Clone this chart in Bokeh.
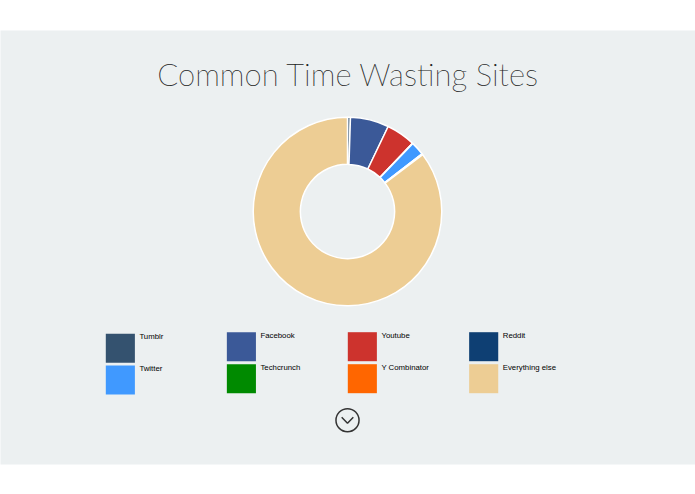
import numpy as np
from bokeh.embed import file_html
from bokeh.models import ColumnDataSource, Range1d
from bokeh.plotting import figure
from bokeh.resources import INLINE

# 1. Data
sites = ["Tumblr", "Facebook", "Youtube", "Reddit", "Twitter", "Techcrunch", "Y Combinator", "Everything else"]
shares = [0.5, 6.6, 5.0, 0.1, 2.3, 0.1, 0.1, 85.3]
colors = ["#34526f", "#3b5998", "#cd332d", "#0e3f73", "#4099ff", "#008a00", "#ff6600", "#edcd94"]
title = "Common Time Wasting Sites"

# 2. Layout, all in page pixels
W, H = 695, 494
BG = "#ecf0f1"
panel_top, panel_bottom = 30, 464
cx, cy, r_out, r_in = 347, 211, 94, 47
swatch = 29
# legend goes two rows by four columns, first column sits a bit lower
col_x = [106, 226.7, 347.3, 468.3]
row_y = {0: [333.3, 331.7, 331.7, 331.7], 1: [365, 363.7, 363.7, 363.7]}


def fy(y):
    return H - y


p = figure(width=W, height=H, x_range=Range1d(1, W - 1), y_range=Range1d(0, H),
           x_axis_location=None, y_axis_location=None,
           output_backend="svg", toolbar_location=None, min_border=0)
p.grid.visible = False
p.outline_line_color = None
p.background_fill_color = "white"
p.border_fill_color = "white"
# cancels the page margin, the panel runs edge to edge
p.styles = {"position": "absolute", "left": "0px", "top": "0px"}

p.quad(left=[-5], right=[W + 5], top=[fy(panel_top)], bottom=[fy(panel_bottom)], fill_color=BG, line_color=None)

p.text(x=[(158 + 538) / 2], y=[fy(73)], text=[title], text_font={"value": "Lato Thin, Roboto Thin, Lato"},
       text_font_size="31px", text_color="#222222", text_align="center", text_baseline="alphabetic")

# 3. Donut, clockwise from twelve o'clock
ends = np.cumsum(shares) / np.sum(shares) * 2 * np.pi
starts = np.concatenate([[0], ends[:-1]])
donut = ColumnDataSource(dict(start=np.pi / 2 - starts, end=np.pi / 2 - ends, color=colors, site=sites))
p.annular_wedge(x=cx, y=fy(cy), inner_radius=r_in, outer_radius=r_out, start_angle="start", end_angle="end",
                direction="clock", fill_color="color", line_color="white", line_width=1.5, source=donut)

# 4. Legend
for i, site in enumerate(sites):
    col, row = i % 4, i // 4
    x, y = col_x[col], row_y[row][col]
    p.quad(left=[x], right=[x + swatch], top=[fy(y)], bottom=[fy(y + swatch)],
           fill_color=colors[i], line_color=None)
    p.text(x=[x + swatch + 4.5], y=[fy(y + 3)], text=[site], text_font={"value": "Liberation Sans"},
           text_font_size="7.8px", text_color="#000000", text_align="left", text_baseline="alphabetic")

# 5. Scroll button
p.circle(x=[347], y=[fy(419.7)], radius=11.5, fill_color=None, line_color="#333333", line_width=1.5)
p.line(x=[341.2, 347, 352.8], y=[fy(416.7), fy(422.7), fy(416.7)], line_color="#333333", line_width=1.5)

open("out.html", "w").write(file_html(p, INLINE))
